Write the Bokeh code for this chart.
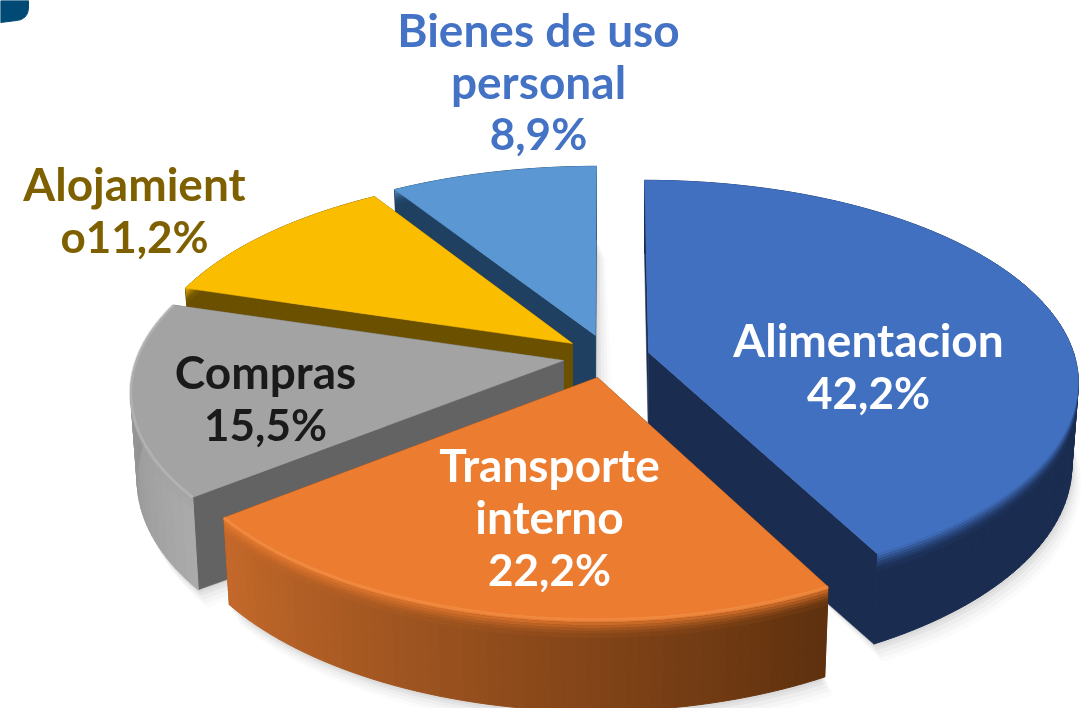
import math
from bokeh.plotting import figure
from bokeh.embed import file_html
from bokeh.resources import INLINE
from bokeh.core.properties import value

# ---- data
categories = ["Alimentacion", "Transporte interno", "Compras", "Alojamiento", "Bienes de uso personal"]
shares = [42.2, 22.2, 15.5, 11.2, 8.9]

label_lines = [
    ["Alimentacion", "42,2%"],
    ["Transporte", "interno", "22,2%"],
    ["Compras", "15,5%"],
    ["Alojamient", "o11,2%"],
    ["Bienes de uso", "personal", "8,9%"],
]

# ---- styles / layout
top_col = ["#4170C0", "#EB7C30", "#A3A3A3", "#FBBD00", "#5A97D3"]
radial_col = ["#1A2C50", "#6E3A12", "#636363", "#6B5000", "#1F4060"]
wall_a = ["#1A2C50", "#5E300E", "#ABABAB", "#6B5000", "#1F4060"]
wall_b = ["#1A2C50", "#C4692A", "#858585", "#6B5000", "#1F4060"]
rim_col = [None, "#F7954E", "#BEBEBE", None, None]
label_col = ["#FFFFFF", "#FFFFFF", "#1A1A1A", "#7F6000", "#4472C4"]
apex = [(648, 352), (597, 377), (563, 360), (572, 343), (595, 335)]
centre = [(644, 352), (595, 377), (564, 362), (576, 345), (596, 338)]
ry_scale = [1.0, 1.04, 1.0, 1.0, 1.0]
depth_scale = [1.0, 1.0, 1.06, 1.0, 1.0]
label_pos = [(868, 338.5, 53), (549, 463.5, 52.5), (265, 370.5, 53), (134, 182.5, 53), (538, 28.5, 52)]
draw_order = [4, 3, 2, 0, 1]
RX, RY, K, DEPTH, SHRINK = 429.0, 198.0, 0.15, 93.0, 0.985
FONT = "Lato"
FS = "46px"
FS_PCT = "44px"
bands = [(0, .03, .9), (.03, .06, .7), (.06, .09, .5), (.09, .12, .32), (.12, .15, .18), (.15, .2, .07)]


def pt(t, i, s=1.0, d=0.0):
    X, Y = math.sin(t), math.cos(t)
    w = 1 + K * Y
    c = centre[i]
    return (c[0] + s * RX * X / w, c[1] - s * RY * ry_scale[i] * Y / w + d * depth_scale[i] / w * 0.87)


def top_pt(t, i):
    return pt(t, i)


def bot_pt(t, i):
    return pt(t, i, SHRINK, DEPTH)


def mix(a, b, f):
    ca = [int(a[k:k + 2], 16) for k in (1, 3, 5)]
    cb = [int(b[k:k + 2], 16) for k in (1, 3, 5)]
    return "#%02x%02x%02x" % tuple(round(x + (y - x) * f) for x, y in zip(ca, cb))


p = figure(width=1089, height=708, x_range=(0, 1089), y_range=(708, 0),
           output_backend="svg", toolbar_location=None,
           min_border=0, outline_line_color=None, background_fill_color="white")
p.axis.visible = False
p.grid.visible = False
p.styles = {"position": "fixed", "left": "0", "top": "0"}

cum = [0.0]
for v in shares:
    cum.append(cum[-1] + v)
ang = [(cum[i] * 2 * math.pi / 100, cum[i + 1] * 2 * math.pi / 100) for i in range(len(shares))]

# decoration at the top-left corner
bx = [0, 28] + [16 + 12 * math.cos(a * math.pi / 8) for a in range(0, 5)] + [0]
by = [0, 0] + [8 + 12 * math.sin(a * math.pi / 8) for a in range(0, 5)] + [22]
p.patch(bx, by, fill_color="#004A75", line_color="#004A75")

for i in draw_order:
    a0, a1 = ang[i]
    c = apex[i]
    dp = DEPTH * depth_scale[i]
    n = max(8, int((a1 - a0) * 40))
    ts = [a0 + (a1 - a0) * j / n for j in range(n + 1)]
    # soft shadow
    for off, al in ((18, .02), (14, .03), (10, .04), (6, .05), (3, .05)):
        sx = [c[0] + off] + [bot_pt(t, i)[0] + off * .5 for t in ts]
        sy = [c[1] + dp] + [bot_pt(t, i)[1] + off for t in ts]
        p.patch(sx, sy, fill_color="#404040", fill_alpha=al, line_color=None)
    # radial walls
    for a in (a0, a1):
        tp, bt = top_pt(a, i), bot_pt(a, i)
        p.patch([c[0], tp[0], bt[0], c[0]], [c[1], tp[1], bt[1], c[1] + dp],
                fill_color=radial_col[i], line_color=radial_col[i], line_width=.5)
    # outer wall as vertical strips, one colour for each step of the angle
    xs, ys, cols = [], [], []
    for j in range(n):
        q0, q1 = top_pt(ts[j], i), top_pt(ts[j + 1], i)
        b0, b1 = bot_pt(ts[j], i), bot_pt(ts[j + 1], i)
        xs.append([q0[0], q1[0], b1[0], b0[0]])
        ys.append([q0[1], q1[1], b1[1], b0[1]])
        cols.append(mix(wall_a[i], wall_b[i], (j + .5) / n))
    p.patches(xs, ys, fill_color=cols, line_color=cols, line_width=1)
    # bevel: continuous bands of the top colour fading down the wall
    for l0, l1, al in bands:
        up = [(top_pt(t, i)[0] + (bot_pt(t, i)[0] - top_pt(t, i)[0]) * l0,
               top_pt(t, i)[1] + (bot_pt(t, i)[1] - top_pt(t, i)[1]) * l0) for t in ts]
        dn = [(top_pt(t, i)[0] + (bot_pt(t, i)[0] - top_pt(t, i)[0]) * l1,
               top_pt(t, i)[1] + (bot_pt(t, i)[1] - top_pt(t, i)[1]) * l1) for t in ts]
        ring = up + dn[::-1]
        p.patch([q[0] for q in ring], [q[1] for q in ring], fill_color=top_col[i],
                fill_alpha=al, line_color=None)
    # top face
    tx = [c[0]] + [top_pt(t, i)[0] for t in ts]
    ty = [c[1]] + [top_pt(t, i)[1] for t in ts]
    p.patch(tx, ty, fill_color=top_col[i], line_color=top_col[i], line_width=.5)
    if rim_col[i]:
        p.line([top_pt(t, i)[0] for t in ts], [top_pt(t, i)[1] for t in ts],
               line_color=rim_col[i], line_width=3, line_alpha=.55)

# labels
for i, lines in enumerate(label_lines):
    x0, y0, dy = label_pos[i]
    for k, line in enumerate(lines):
        size = FS_PCT if line.endswith("%") else FS
        p.text([x0], [y0 + dy * k], text=[line],
               text_color=label_col[i], text_font=value(FONT), text_font_size=size,
               text_font_style="bold", text_align="center", text_baseline="middle")

open("out.html", "w").write(file_html(p, INLINE))
